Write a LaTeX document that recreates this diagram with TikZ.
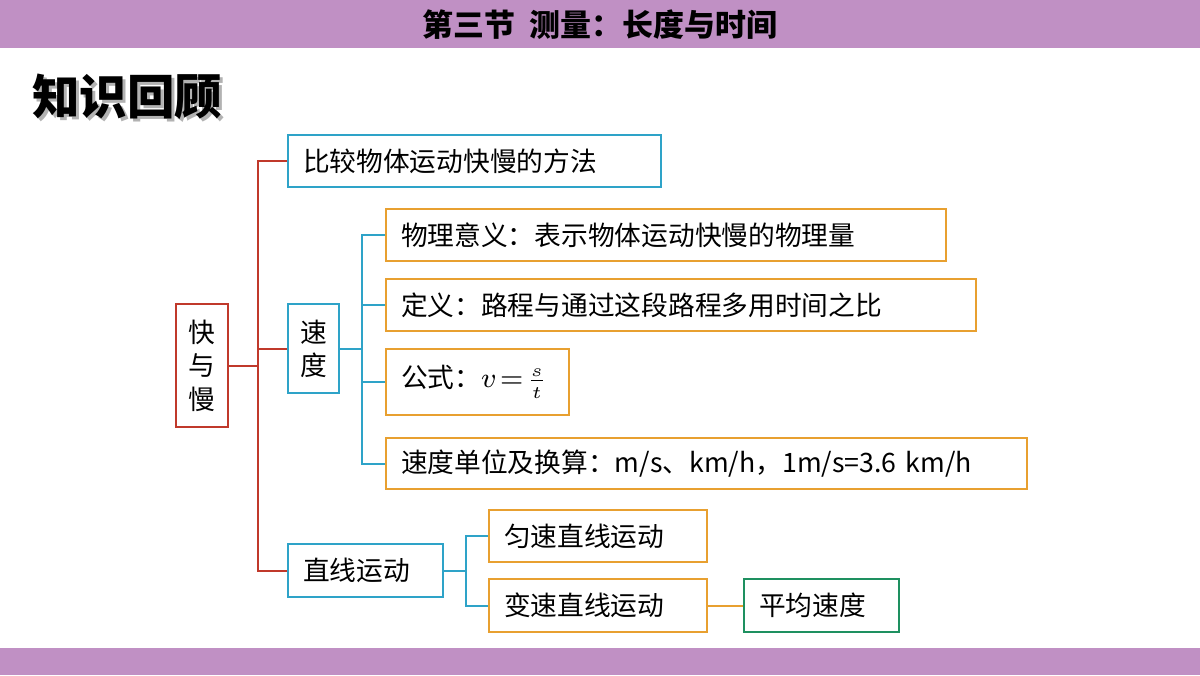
\documentclass[tikz,border=0pt]{standalone}
\usepackage{fontspec}
\setmainfont{Noto Sans CJK SC}
\usetikzlibrary{positioning}
\definecolor{barpurple}{HTML}{C090C4}
\definecolor{linered}{HTML}{C0392B}
\definecolor{linecyan}{HTML}{2EA3C8}
\definecolor{lineorange}{HTML}{E8A030}
\definecolor{linegreen}{HTML}{1E9060}
\tikzset{
  box/.style={draw, line width=0.6pt, anchor=north west, align=left, inner ysep=0pt, inner xsep=0.15cm,
    font=\fontsize{7.6}{9.5}\selectfont},
  redline/.style={draw=linered, line width=0.6pt},
  cyanline/.style={draw=linecyan, line width=0.6pt},
  orangeline/.style={draw=lineorange, line width=0.6pt},
}
\begin{document}
\begin{tikzpicture}[x=0.01cm, y=-0.01cm]
  % frame and bars
  \useasboundingbox (0,0) rectangle (1200,675);
  \fill[barpurple] (0,0) rectangle (1200,48);
  \fill[barpurple] (0,648) rectangle (1200,675);
  \node (title) at (600,25) {\fontsize{8.8}{10}\selectfont\bfseries 第三节\ \ 测量：长度与时间};
  \node[text=gray!60, anchor=west] at (23,100) {\fontsize{13.5}{15}\selectfont\bfseries 知识回顾};
  \node[anchor=west] (review) at (20,97) {\fontsize{13.5}{15}\selectfont\bfseries 知识回顾};

  % boxes
  \node[box, draw=linered, inner xsep=0pt, minimum width=0.52cm, minimum height=1.23cm, align=center] (kym) at (175,303) {快\\与\\慢};
  \node[box, draw=linecyan, minimum width=3.73cm, minimum height=0.52cm, text width=3.43cm] (method) at (287,134) {比较物体运动快慢的方法};
  \node[box, draw=linecyan, inner xsep=0pt, minimum width=0.51cm, minimum height=0.89cm, align=center] (speed) at (287,303) {速\\度};
  \node[box, draw=linecyan, minimum width=1.55cm, minimum height=0.53cm, text width=1.25cm] (line) at (287,543) {直线运动};
  \node[box, draw=lineorange, minimum width=5.60cm, minimum height=0.52cm, text width=5.30cm] (meaning) at (385,208) {物理意义：表示物体运动快慢的物理量};
  \node[box, draw=lineorange, minimum width=5.90cm, minimum height=0.52cm, text width=5.60cm] (defn) at (385,278) {定义：路程与通过这段路程多用时间之比};
  \node[box, draw=lineorange, minimum width=1.83cm, minimum height=0.66cm, text width=1.53cm] (formula) at (385,348) {公式：$v\!=\!\frac{s}{t}$};
  \node[box, draw=lineorange, minimum width=6.41cm, minimum height=0.51cm, text width=6.11cm] (unit) at (385,437) {速度单位及换算：m/s、km/h，1m/s=3.6 km/h};
  \node[box, draw=lineorange, minimum width=2.18cm, minimum height=0.52cm, text width=1.88cm] (uniform) at (488,509) {匀速直线运动};
  \node[box, draw=lineorange, minimum width=2.18cm, minimum height=0.53cm, text width=1.88cm] (vary) at (488,578) {变速直线运动};
  \node[box, draw=linegreen, minimum width=1.55cm, minimum height=0.53cm, text width=1.25cm] (avg) at (743,578) {平均速度};

  % connectors
  \path[redline] (kym.east) -| (258,0 |- method.west) -- (method.west);
  \path[redline] (kym.east) -| (258,0 |- line.west) -- (line.west);
  \path[redline] (258,0 |- speed.west) -- (speed.west);
  \path[cyanline] (speed.east) -| (362,0 |- meaning.west) -- (meaning.west);
  \path[cyanline] (speed.east) -| (362,0 |- unit.west) -- (unit.west);
  \path[cyanline] (362,0 |- defn.west) -- (defn.west);
  \path[cyanline] (362,0 |- formula.west) -- (formula.west);
  \path[cyanline] (line.east) -| (466,0 |- uniform.west) -- (uniform.west);
  \path[cyanline] (line.east) -| (466,0 |- vary.west) -- (vary.west);
  \path[orangeline] (vary) -- (avg);
\end{tikzpicture}
\end{document}
